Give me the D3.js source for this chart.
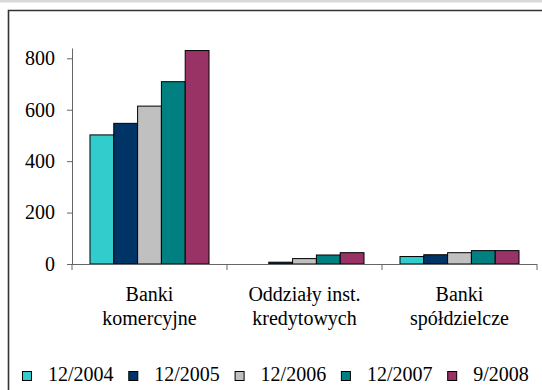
<!DOCTYPE html>
<html>
<head>
<meta charset="utf-8">
<script src="https://cdn.jsdelivr.net/npm/d3@7"></script>
</head>
<body style="margin:0">
<svg id="c" width="542" height="390" font-family="Liberation Serif"></svg>
<script>
const categories = [["Banki","komercyjne"],["Oddziały inst.","kredytowych"],["Banki","spółdzielcze"]];
const seriesNames = ["12/2004","12/2005","12/2006","12/2007","9/2008"];
const seriesColors = ["#33CCCC","#003366","#C0C0C0","#008080","#993366"];
const s2004 = [502, 0, 29];
const s2005 = [547, 7, 36];
const s2006 = [614, 21, 44];
const s2007 = [709, 35, 52];
const s2008 = [830, 44, 52];
const yTicks = [0, 200, 400, 600, 800];
const seriesValues = [s2004, s2005, s2006, s2007, s2008];

const FONT = '"Liberation Serif", Tinos, monospace';
const svg = d3.select("#c");

// top strip and frame
svg.append("rect").attr("x",0).attr("y",0).attr("width",542).attr("height",2.5).attr("fill","#d9d9d9");
svg.append("path").attr("d","M8.5,390V10.5H542").attr("fill","none").attr("stroke","#333").attr("stroke-width",1.6);

const x0 = d3.scaleBand().domain(d3.range(categories.length)).range([72,537]).paddingInner(0).paddingOuter(0);
const x1 = d3.scaleBand().domain(d3.range(seriesNames.length)).range([0,x0.bandwidth()]).paddingInner(0).paddingOuter(0.756);
const y = d3.scaleLinear().domain([0,840]).range([264,48]);

// bars
const groups = svg.append("g").selectAll("g").data(categories).join("g")
  .attr("transform",(d,i)=>`translate(${x0(i)},0)`);
groups.selectAll("rect").data((d,i)=>seriesValues.map((s,j)=>({j,v:s[i]})).filter(e=>e.v>0))
  .join("rect")
  .attr("x",e=>x1(e.j)).attr("width",x1.bandwidth())
  .attr("y",e=>y(e.v)).attr("height",e=>y(0)-y(e.v))
  .attr("fill",e=>seriesColors[e.j]).attr("stroke","#000").attr("stroke-width",1);

// y axis
const yAxis = svg.append("g").attr("transform","translate(72,0)")
  .call(d3.axisLeft(y).tickValues(yTicks).tickSize(5).tickPadding(12).tickSizeOuter(0));
yAxis.attr("font-family",FONT).attr("font-size",20);
yAxis.select(".domain").attr("stroke","#666");
yAxis.selectAll(".tick line").attr("stroke","#666");
yAxis.selectAll("text").attr("fill","#000").style("font-family",FONT).style("font-size","20px");

// x axis
const xb = d3.range(categories.length+1).map(i=>i<categories.length?x0(i):x0.range()[1]);
const xAxisG = svg.append("g");
xAxisG.append("line").attr("x1",67).attr("x2",537).attr("y1",264.5).attr("y2",264.5).attr("stroke","#666");
xAxisG.selectAll("line.t").data(xb).join("line").attr("class","t")
  .attr("x1",d=>d).attr("x2",d=>d).attr("y1",264).attr("y2",270).attr("stroke","#666");

// category labels (one text per line)
const catLines = categories.flatMap((lines,i)=>lines.map((t,k)=>({i,k,t})));
svg.selectAll("text.cat").data(catLines).join("text").attr("class","cat")
  .attr("text-anchor","middle").style("font-family",FONT).style("font-size","20px").attr("fill","#000")
  .attr("x",d=>x0(d.i)+x0.bandwidth()/2).attr("y",d=>301+d.k*24).text(d=>d.t);

// legend
const legend = svg.append("g").selectAll("g").data(seriesNames).join("g")
  .attr("transform",(d,i)=>`translate(${22+i*106.3},0)`);
legend.append("rect").attr("x",0.5).attr("y",371.5).attr("width",9).attr("height",9)
  .attr("fill",(d,i)=>seriesColors[i]).attr("stroke","#000").attr("stroke-width",1);
legend.append("text").attr("x",26).attr("y",381).style("font-family",FONT).style("font-size","20px").attr("fill","#000").text(d=>d);
</script>
</body>
</html>
